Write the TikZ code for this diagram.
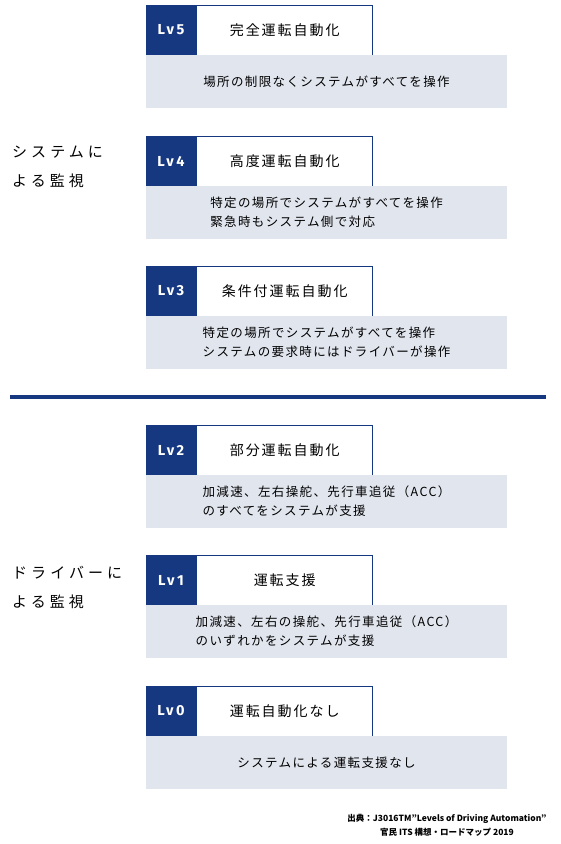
\documentclass[tikz,border=0pt]{standalone}
\usepackage{fontspec}
\setmainfont{Noto Sans CJK JP}
\newfontfamily\lvfont{Fira Sans}
\usetikzlibrary{positioning}
\definecolor{navy}{RGB}{22,56,128}
\definecolor{paleblue}{RGB}{225,229,238}
\tikzset{
	lvbadge/.style={fill=navy, text=white, minimum width=50pt, minimum height=50pt, inner sep=0pt,
			font=\lvfont\bfseries\fontsize{14.5}{16}\selectfont\addfontfeature{LetterSpace=18}},
	lvtitle/.style={draw=navy, line width=1pt, fill=white, minimum width=176pt, minimum height=50pt, inner sep=0pt,
			font=\fontsize{14}{16}\selectfont\addfontfeature{LetterSpace=14}},
	lvdesc/.style={fill=paleblue, minimum width=361pt, minimum height=52.5pt, inner sep=0pt, align=left,
			font=\fontsize{12.5}{19}\selectfont\addfontfeature{LetterSpace=11}},
	sidelabel/.style={anchor=west, align=left, inner sep=0pt,
			font=\fontsize{15}{29}\selectfont\addfontfeature{LetterSpace=27}},
	divider/.style={navy, line width=4pt}
}

\begin{document}
\begin{tikzpicture}[x=1pt, y=-1pt]
	\useasboundingbox (0,0) rectangle (560,844);

	\node[lvbadge] (lv5) at (171,30) {Lv5};
	\node[lvtitle, right=0pt of lv5] (title5) {完全運転自動化};
	\node[lvdesc, anchor=north west] (desc5) at (lv5.south west) {場所の制限なくシステムがすべてを操作};

	\node[lvbadge] (lv4) at (171,161) {Lv4};
	\node[lvtitle, right=0pt of lv4] (title4) {高度運転自動化};
	\node[lvdesc, anchor=north west] (desc4) at (lv4.south west) {特定の場所でシステムがすべてを操作\\緊急時もシステム側で対応};

	\node[lvbadge] (lv3) at (171,291) {Lv3};
	\node[lvtitle, right=0pt of lv3] (title3) {条件付運転自動化};
	\node[lvdesc, anchor=north west] (desc3) at (lv3.south west) {特定の場所でシステムがすべてを操作\\システムの要求時にはドライバーが操作};

	\node[sidelabel] (system) at (12,167) {システムに\\よる監視};

	\coordinate (divleft) at (10,397);
	\coordinate (divright) at (546,397);
	\draw[divider] (divleft) -- (divright);

	\node[lvbadge] (lv2) at (171,450) {Lv2};
	\node[lvtitle, right=0pt of lv2] (title2) {部分運転自動化};
	\node[lvdesc, anchor=north west] (desc2) at (lv2.south west) {加減速、左右操舵、先行車追従（ACC）\\のすべてをシステムが支援};

	\node[lvbadge] (lv1) at (171,580) {Lv1};
	\node[lvtitle, right=0pt of lv1] (title1) {運転支援};
	\node[lvdesc, anchor=north west] (desc1) at (lv1.south west) {加減速、左右の操舵、先行車追従（ACC）\\のいずれかをシステムが支援};

	\node[sidelabel] (driver) at (12,587) {ドライバーに\\よる監視};

	\node[lvbadge] (lv0) at (171,711) {Lv0};
	\node[lvtitle, right=0pt of lv0] (title0) {運転自動化なし};
	\node[lvdesc, anchor=north west] (desc0) at (lv0.south west) {システムによる運転支援なし};

	\node[align=center, inner sep=0pt, font=\bfseries\fontsize{8.5}{14}\selectfont] (source) at (447,825)
		{出典：J3016TM"Levels of Driving Automation"\\官民 ITS 構想・ロードマップ 2019};
\end{tikzpicture}
\end{document}
